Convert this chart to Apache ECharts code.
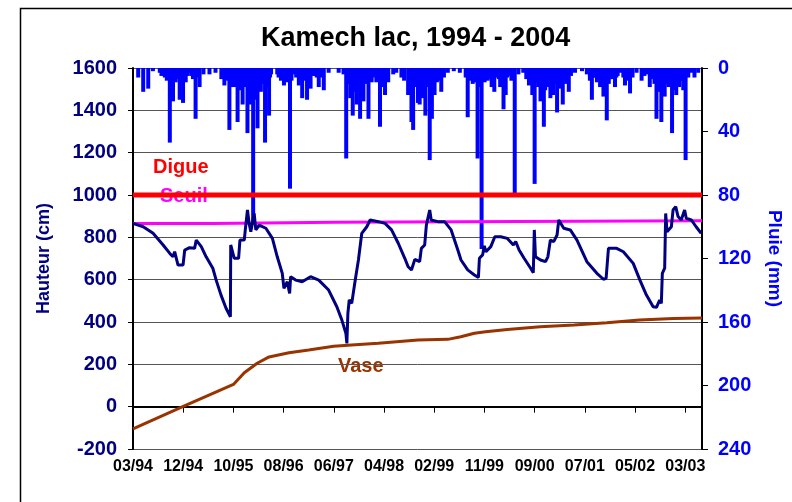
<!DOCTYPE html>
<html>
<head>
<meta charset="utf-8">
<script src="https://cdn.jsdelivr.net/npm/echarts@6/dist/echarts.min.js"></script>
<style>
  html, body { margin: 0; padding: 0; background: #fff; }
  #chart { width: 792px; height: 502px; }
</style>
</head>
<body>
<div id="chart"></div>
<script>
// jours depuis le 01/03/1994
const START = Date.UTC(1994, 2, 1);

// hauteur du lac (cm)
const levelDay = [
  0, 61, 120, 180, 220, 239, 249, 269, 299, 309,
  338, 368, 378, 408, 437, 477, 497, 526, 556, 582,
  584, 605, 631, 639, 665, 671, 684, 694, 704, 724,
  734, 754, 794, 833, 862, 892, 902, 922, 936, 942,
  972, 1011, 1061, 1110, 1169, 1218, 1248, 1272, 1278, 1284,
  1292, 1307, 1328, 1347, 1367, 1397, 1417, 1466, 1506, 1545,
  1585, 1624, 1644, 1664, 1684, 1713, 1723, 1743, 1753, 1773,
  1782, 1822, 1862, 1901, 1941, 1960, 2000, 2040, 2064, 2070,
  2089, 2099, 2109, 2138, 2162, 2197, 2237, 2273, 2287, 2307,
  2337, 2376, 2392, 2398, 2405, 2435, 2465, 2479, 2494, 2514,
  2534, 2544, 2574, 2613, 2653, 2712, 2772, 2811, 2827, 2841,
  2890, 2930, 2989, 3029, 3068, 3108, 3128, 3147, 3157, 3163,
  3177, 3183, 3191, 3217, 3227, 3243, 3257, 3276, 3296, 3306,
  3336, 3365, 3395
];
const levelCm = [
  866, 850, 819, 764, 724, 708, 732, 669, 669, 740,
  751, 748, 787, 756, 708, 654, 598, 527, 465, 425,
  764, 701, 701, 787, 787, 835, 929, 866, 826, 913,
  835, 858, 843, 795, 708, 630, 559, 590, 535, 614,
  598, 590, 614, 598, 551, 472, 409, 347, 299, 441,
  504, 488, 598, 693, 819, 850, 882, 874, 866, 835,
  772, 701, 661, 646, 696, 685, 748, 764, 858, 929,
  882, 874, 874, 835, 740, 693, 646, 622, 611, 701,
  717, 760, 732, 756, 803, 803, 795, 764, 780, 740,
  701, 654, 633, 835, 708, 693, 685, 708, 787, 780,
  811, 882, 843, 835, 787, 685, 630, 602, 606, 748,
  748, 732, 677, 598, 527, 472, 469, 504, 488, 630,
  654, 913, 826, 850, 929, 945, 898, 882, 929, 890,
  882, 850, 819
];

// vase (cm)
const vaseDay = [0, 297, 600, 665, 742, 813, 932, 1050, 1199, 1306, 1466, 1703,
  1881, 1959, 2040, 2107, 2237, 2433, 2635, 2831, 3027, 3229, 3400];
const vaseCm = [-105, 0, 105, 160, 205, 235, 255, 268, 285, 291, 300, 315,
  318, 330, 347, 354, 365, 378, 386, 397, 409, 416, 419];

// seuil et digue (cm)
const seuilDay = [0, 475, 475, 1210, 1210, 3400];
const seuilCm = [865, 865, 871, 871, 878, 878];
const digueDay = [0, 3400];
const digueCm = [1000, 1000];

// pluie (mm)
const rainDay = [
  31, 61, 91, 119, 160, 190, 202, 220, 231, 239, 255, 279, 299, 315, 338, 358, 374, 398, 421, 457,
  493, 528, 546, 564, 576, 588, 605, 625, 641, 655, 671, 684, 694, 704, 718, 730, 744, 754, 764, 777,
  789, 801, 813, 825, 862, 884, 902, 920, 938, 961, 991, 1011, 1027, 1040, 1061, 1086, 1110, 1122, 1140, 1169,
  1229, 1258, 1274, 1288, 1298, 1313, 1323, 1337, 1347, 1357, 1365, 1377, 1389, 1407, 1426, 1442, 1454, 1476, 1490, 1506,
  1525, 1555, 1573, 1604, 1620, 1644, 1664, 1674, 1686, 1703, 1713, 1733, 1747, 1757, 1773, 1786, 1802, 1816, 1828, 1842,
  1858, 1881, 1917, 1953, 1988, 2000, 2012, 2030, 2048, 2059, 2071, 2083, 2101, 2119, 2131, 2143, 2159, 2178, 2194, 2214,
  2227, 2243, 2261, 2281, 2303, 2332, 2350, 2366, 2386, 2400, 2410, 2421, 2435, 2455, 2463, 2475, 2494, 2510, 2522, 2534,
  2552, 2568, 2588, 2604, 2617, 2641, 2683, 2712, 2730, 2742, 2760, 2772, 2791, 2811, 2831, 2843, 2861, 2880, 2896, 2914,
  2940, 2956, 2970, 2985, 3009, 3039, 3056, 3068, 3088, 3104, 3116, 3128, 3139, 3157, 3177, 3187, 3199, 3221, 3235, 3246,
  3264, 3276, 3288, 3302, 3318, 3336, 3355, 3377,
  // petites pluies des saisons humides
  170, 210, 265, 290, 325, 348, 385,
  595, 615, 632, 662, 676, 710, 737, 771, 795, 819,
  870, 893, 947, 975, 1000, 1050, 1075, 1098, 1130,
  1280, 1305, 1330, 1352, 1371, 1398, 1415, 1433, 1465, 1483, 1498, 1515,
  1650, 1695, 1722, 1740, 1765, 1780, 1795, 1809, 1835,
  2006, 2020, 2040, 2065, 2077, 2092, 2110, 2137, 2150, 2167, 2186, 2204, 2220, 2235, 2270,
  2358, 2375, 2393, 2428, 2443, 2469, 2485, 2502, 2516, 2528, 2543, 2560, 2580, 2596,
  2736, 2750, 2780, 2800, 2820, 2837, 2852, 2870, 2888, 2930, 2948, 2963,
  3095, 3110, 3122, 3133, 3147, 3167, 3182, 3193, 3210, 3228, 3241, 3255, 3270, 3282, 3295, 3310
];
const rainMm = [
  6, 15, 13, 2, 3, 6, 8, 47, 10, 21, 9, 20, 22, 9, 3, 7, 32, 12, 4, 4,
  3, 7, 11, 8, 39, 12, 12, 34, 14, 23, 12, 41, 15, 23, 97, 20, 38, 14, 15, 10,
  47, 12, 30, 4, 4, 8, 11, 9, 76, 4, 11, 19, 8, 20, 13, 5, 12, 6, 14, 3,
  3, 4, 57, 10, 19, 30, 15, 23, 14, 32, 12, 21, 10, 32, 9, 5, 9, 37, 12, 17,
  9, 4, 3, 6, 8, 17, 34, 39, 12, 22, 23, 19, 30, 12, 58, 32, 17, 9, 8, 15,
  6, 3, 2, 3, 6, 31, 8, 10, 9, 57, 12, 114, 9, 8, 6, 12, 15, 4, 12, 26,
  17, 5, 8, 80, 4, 3, 7, 11, 17, 73, 9, 12, 21, 37, 14, 12, 19, 17, 10, 28,
  13, 23, 10, 15, 5, 3, 2, 4, 8, 20, 6, 9, 12, 18, 33, 10, 7, 12, 5, 3,
  11, 6, 16, 6, 3, 8, 5, 4, 12, 7, 10, 32, 15, 34, 18, 10, 12, 41, 14, 17,
  12, 8, 14, 58, 6, 3, 6, 3,
  5, 6, 7, 8, 5, 5, 6,
  8, 9, 10, 9, 10, 12, 10, 9, 8, 6,
  6, 7, 8, 6, 7, 6, 5, 6, 5,
  8, 10, 9, 10, 9, 8, 7, 6, 8, 9, 8, 6,
  6, 8, 9, 10, 9, 10, 8, 6, 5,
  5, 5, 6, 8, 9, 8, 6, 7, 8, 6, 7, 8, 9, 6, 5,
  5, 6, 8, 9, 10, 8, 8, 7, 8, 8, 7, 8, 7, 6,
  6, 6, 6, 8, 8, 9, 7, 5, 6, 6, 5, 8,
  6, 6, 8, 9, 10, 10, 9, 8, 10, 9, 10, 8, 7, 8, 8, 5
];

const zip = (xs, ys) => xs.map((x, i) => [x, ys[i]]);
const pad = n => (n < 10 ? '0' : '') + n;
const FONT = 'Liberation Sans, Arial, sans-serif';

const chart = echarts.init(document.getElementById('chart'), null, { renderer: 'canvas' });

const option = {
  animation: false,
  backgroundColor: '#fff',
  title: {
    text: 'Kamech lac, 1994 - 2004',
    left: 256,
    top: 20,
    textStyle: { fontFamily: FONT, fontSize: 27, fontWeight: 'bold', color: '#000' }
  },
  grid: { left: 133, right: 86, top: 68, bottom: 53 },
  xAxis: {
    type: 'value',
    min: 0,
    max: 3400,
    interval: 300,
    axisLine: { lineStyle: { color: '#000', width: 2 } },
    axisTick: { length: 6, lineStyle: { color: '#000' } },
    splitLine: { show: false },
    axisLabel: {
      showMaxLabel: false,
      margin: 10,
      color: '#000',
      fontFamily: FONT,
      fontSize: 16,
      fontWeight: 'bold',
      formatter: v => {
        const d = new Date(START + v * 86400000);
        return pad(d.getUTCMonth() + 1) + '/' + pad(d.getUTCFullYear() % 100);
      }
    }
  },
  yAxis: [
    {
      type: 'value',
      min: -200,
      max: 1600,
      interval: 200,
      name: 'Hauteur (cm)',
      nameLocation: 'middle',
      nameGap: 80,
      nameTextStyle: { color: '#000080', fontFamily: FONT, fontSize: 18, fontWeight: 'bold' },
      axisLine: { show: true, lineStyle: { color: '#000', width: 2 } },
      axisTick: { show: true, length: 5, lineStyle: { color: '#000' } },
      splitLine: { lineStyle: { color: '#555', width: 1 } },
      axisLabel: {
        margin: 16, color: '#000080', fontFamily: FONT, fontSize: 20, fontWeight: 'bold',
        formatter: v => String(v)
      }
    },
    {
      type: 'value',
      min: 0,
      max: 240,
      interval: 40,
      inverse: true,
      position: 'right',
      name: 'Pluie (mm)',
      nameLocation: 'middle',
      nameGap: 63,
      nameRotate: -90,
      nameTextStyle: { color: '#0000ff', fontFamily: FONT, fontSize: 19, fontWeight: 'bold' },
      axisLine: { show: true, lineStyle: { color: '#000', width: 2 } },
      axisTick: { show: true, length: 6, lineStyle: { color: '#000' } },
      splitLine: { show: false },
      axisLabel: {
        margin: 16, color: '#0000ff', fontFamily: FONT, fontSize: 20, fontWeight: 'bold',
        formatter: v => String(v)
      }
    }
  ],
  series: [
    {
      name: 'Digue',
      type: 'line',
      data: zip(digueDay, digueCm),
      symbol: 'none',
      lineStyle: { color: '#ff0000', width: 5 }
    },
    {
      name: 'Seuil',
      type: 'line',
      data: zip(seuilDay, seuilCm),
      symbol: 'none',
      lineStyle: { color: '#ff00ff', width: 3 }
    },
    {
      name: 'Hauteur',
      type: 'line',
      data: zip(levelDay, levelCm),
      symbol: 'none',
      lineStyle: { color: '#000080', width: 3 }
    },
    {
      name: 'Vase',
      type: 'line',
      data: zip(vaseDay, vaseCm),
      symbol: 'none',
      lineStyle: { color: '#993300', width: 3 }
    },
    {
      name: 'Pluie',
      type: 'bar',
      yAxisIndex: 1,
      data: zip(rainDay, rainMm),
      barWidth: 4,
      barGap: '-100%',
      itemStyle: { color: '#0000ff' }
    }
  ],
  graphic: [
    {
      type: 'rect',
      left: 18,
      top: 6,
      shape: { width: 800, height: 520 },
      style: { fill: 'none', stroke: '#000', lineWidth: 1.5 },
      silent: true
    },
    {
      type: 'text', left: 153, top: 157,
      style: { text: 'Digue', fill: '#ff0000', font: 'bold 20px ' + FONT }
    },
    {
      type: 'text', left: 160, top: 186,
      style: { text: 'Seuil', fill: '#ff00ff', font: 'bold 20px ' + FONT }
    },
    {
      type: 'text', left: 338, top: 356,
      style: { text: 'Vase', fill: '#993300', font: 'bold 20px ' + FONT }
    }
  ]
};

chart.setOption(option);
</script>
</body>
</html>
